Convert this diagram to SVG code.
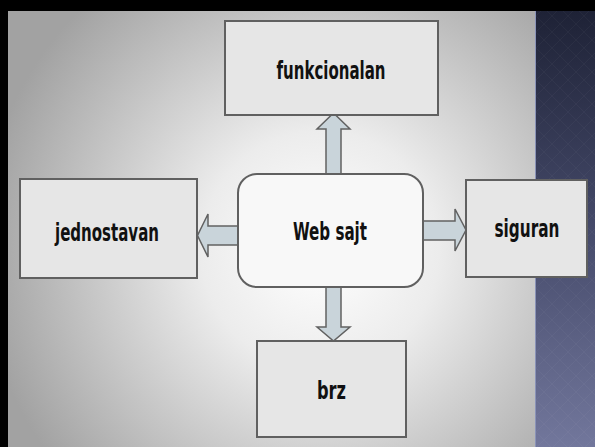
<svg xmlns="http://www.w3.org/2000/svg" width="595" height="447" viewBox="0 0 595 447">
<defs>
<radialGradient id="bg" gradientUnits="userSpaceOnUse" cx="320" cy="250" r="340">
<stop offset="0" stop-color="#ffffff"/>
<stop offset="0.35" stop-color="#ececec"/>
<stop offset="1" stop-color="#a2a2a2"/>
</radialGradient>
<linearGradient id="side" x1="0" y1="0" x2="0" y2="1">
<stop offset="0" stop-color="#1e2236"/>
<stop offset="0.5" stop-color="#454a6a"/>
<stop offset="1" stop-color="#72779c"/>
</linearGradient>
<pattern id="dia" width="16" height="16" patternUnits="userSpaceOnUse">
<path d="M8 0 L16 8 L8 16 L0 8 Z" fill="none" stroke="#ffffff" stroke-opacity="0.03" stroke-width="1"/>
</pattern>
<style>
.box{fill:#e6e6e6;stroke:#606060;stroke-width:2}
.hub{fill:#f8f8f8;stroke:#606060;stroke-width:2}
.arr{fill:#c9d4da;stroke:#616161;stroke-width:1.5;stroke-linejoin:miter}
.lbl{font-family:"DejaVu Sans Condensed","DejaVu Sans",sans-serif;font-stretch:condensed;font-weight:bold;font-size:25px;fill:#111111;text-anchor:middle}
</style>
</defs>
<rect x="0" y="0" width="595" height="447" fill="#000000"/>
<rect x="8" y="11" width="527" height="436" fill="url(#bg)"/>
<rect x="535" y="11" width="60" height="436" fill="url(#side)"/>
<rect x="535" y="11" width="60" height="436" fill="url(#dia)"/>
<line x1="535.5" y1="11" x2="535.5" y2="447" stroke="#8a93b8" stroke-width="1"/>
<g id="connectors">
<polygon class="arr" points="333.5,113 350,129 341,129 341,174 326,174 326,129 317,129"/>
<polygon class="arr" points="326,287 341,287 341,327 350,327 333.5,341 317,327 326,327"/>
<polygon class="arr" points="238,226 208,226 208,214 197.5,235.5 208,257 208,245 238,245"/>
<polygon class="arr" points="423,221 455,221 455,209 466,230 455,251 455,240 423,240"/>
</g>
<g id="funkcionalan">
<rect class="box" x="225" y="21" width="213" height="94"/>
<text class="lbl" x="331" y="79" textLength="109" lengthAdjust="spacingAndGlyphs">funkcionalan</text>
</g>
<g id="web-sajt">
<rect class="hub" x="238" y="174" width="185" height="113" rx="19" ry="19"/>
<text class="lbl" x="330" y="240" textLength="74" lengthAdjust="spacingAndGlyphs">Web sajt</text>
</g>
<g id="jednostavan">
<rect class="box" x="20" y="179" width="177" height="99"/>
<text class="lbl" x="107" y="241" textLength="104" lengthAdjust="spacingAndGlyphs">jednostavan</text>
</g>
<g id="siguran">
<rect class="box" x="466" y="180" width="121" height="97"/>
<text class="lbl" x="527" y="237" textLength="65" lengthAdjust="spacingAndGlyphs">siguran</text>
</g>
<g id="brz">
<rect class="box" x="257" y="341" width="149" height="96"/>
<text class="lbl" x="331.5" y="399" textLength="29" lengthAdjust="spacingAndGlyphs">brz</text>
</g>
</svg>
